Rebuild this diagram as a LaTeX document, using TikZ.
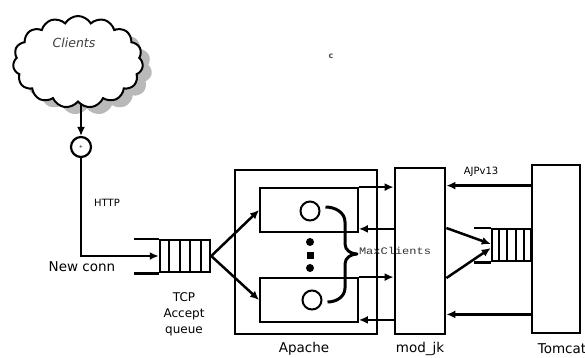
\documentclass[tikz,border=0pt]{standalone}
\usepackage{fontspec}
\setmainfont{DejaVu Sans}
\setmonofont{Liberation Mono}
\usetikzlibrary{shapes.symbols,shadows,arrows.meta,calc}
\begin{document}
\begin{tikzpicture}[x=1pt,y=-1pt,
  box/.style={draw, line width=2.8pt, inner sep=0pt},
  inbox/.style={draw, line width=1.8pt, inner sep=0pt},
  conn/.style={line width=2.5pt, -{Latex[length=9pt,width=8pt]}},
  plain/.style={line width=2.5pt},
  qbox/.style={draw, line width=2.5pt, inner sep=0pt},
  lbl/.style={font=\fontsize{13.5}{13.5}\selectfont, inner sep=0pt},
  small/.style={font=\fontsize{10}{10}\selectfont, inner sep=0pt}]
\useasboundingbox (0,0) rectangle (585,357);
% cloud
\node[cloud, cloud puffs=15, cloud puff arc=120, aspect=1.5, draw, line width=2pt,
      minimum width=130pt, minimum height=92pt, fill=white,
      drop shadow={shadow xshift=9pt, shadow yshift=-7pt, fill=gray!55, opacity=1}] (cloud) at (78,62) {};
\node[lbl, font=\fontsize{12.5}{12.5}\selectfont\itshape, text=black!75] (clientslbl) at (74,43) {Clients};
\node[circle, draw, line width=2.2pt, minimum size=20pt, inner sep=0pt, font=\tiny] (plus) at (81,147) {+};
\draw[conn] (plus.north |- cloud.south) -- (plus.north);
% TCP accept queue
\node[qbox, minimum width=50pt, minimum height=32pt] (q1) at (185,256) {};
\foreach \i in {1,...,4}
  \draw[line width=2.2pt] ($(q1.north west)!\i/5!(q1.north east)$) -- ($(q1.south west)!\i/5!(q1.south east)$);
\draw[plain] (q1.north west) -- ++(-25,0);
\draw[plain] (q1.south west) -- ++(-25,0);
\draw[conn] (plus.south) |- (q1.west);
\node[small] (http) at (107,203) {HTTP};
\node[lbl] (newconn) at (82,267) {New conn};
\node[lbl, align=center, font=\fontsize{12}{16}\selectfont] (tcplbl) at (184,314) {TCP\\Accept\\queue};
% Apache
\node[box, minimum width=142pt, minimum height=164pt] (apache) at (306,252) {};
\node[inbox, minimum width=98pt, minimum height=44pt] (ub) at (309,210) {};
\node[inbox, minimum width=98pt, minimum height=44pt] (lb) at (309,300) {};
\draw[conn] (q1.east) -- (ub.west);
\draw[conn] (q1.east) -- (lb.west);
\node[circle, draw, line width=2pt, minimum size=19pt, inner sep=0pt] (uc) at (310,211) {};
\node[circle, draw, line width=2pt, minimum size=19pt, inner sep=0pt] (lc) at (312,300) {};
\node[circle, fill, minimum size=8pt, inner sep=0pt] (d1) at (310,242) {};
\node[fill, minimum size=7pt, inner sep=0pt] (d2) at (310,255) {};
\node[circle, fill, minimum size=8pt, inner sep=0pt] (d3) at (310,268) {};
\draw[line width=3pt, line join=round] ($(uc.east)+(5,-4)$) to[out=0,in=90] (345,222) -- (345,244)
   to[out=-90,in=180] (357,254) to[out=180,in=90] (345,264) -- (345,288) to[out=-90,in=0] ($(lc.east)+(5,2)$);
\node[lbl] (apachelbl) at (304,349) {Apache};
% mod_jk
\node[box, minimum width=50pt, minimum height=166pt] (modjk) at (420,251) {};
\node[lbl] (modjklbl) at (420,349) {mod\_jk};
\node[inner sep=0pt, font=\ttfamily\fontsize{10}{10}\selectfont, xscale=1.2, text=black!80] (maxcl) at (395,251) {MaxClients};
\draw[conn] (ub.north east) -- (ub.north east -| modjk.west);
\draw[conn] ([yshift=4pt]ub.south east -| modjk.west) -- ([yshift=4pt]ub.south east);
\draw[conn] (lb.north east) -- (lb.north east -| modjk.west);
\draw[conn] ([yshift=3pt]lb.south east -| modjk.west) -- ([yshift=3pt]lb.south east);
% Tomcat
\node[box, minimum width=48pt, minimum height=168pt] (tomcat) at (556,249) {};
\node[lbl] (tomcatlbl) at (562,349) {Tomcat};
\node[qbox, minimum width=39pt, minimum height=32pt] (tq) at (511.5,245) {};
\foreach \i in {1,...,4}
  \draw[line width=2pt] ($(tq.north west)!\i/5!(tq.north east)$) -- ($(tq.south west)!\i/5!(tq.south east)$);
\draw[plain] (tq.north west) -- ++(-17,0);
\draw[plain] (tq.south west) -- ++(-17,0);
\draw[conn] ([yshift=-22pt]tomcat.north west) -- ([yshift=-22pt]tomcat.north west -| modjk.east);
\node[small] (ajp) at (481,172) {AJPv13};
\draw[conn] ([yshift=23pt]modjk.east) -- ([yshift=1pt]tq.west);
\draw[conn] ([yshift=-27pt]modjk.east) -- ([yshift=-3pt]tq.west);
\draw[conn] ([yshift=20pt]tomcat.south west) -- ([yshift=20pt]tomcat.south west -| modjk.east);
% stray mark
\node[inner sep=0pt, font=\fontsize{8}{8}\selectfont\bfseries, text=black!70] (stray) at (331,56) {c};
\end{tikzpicture}
\end{document}
